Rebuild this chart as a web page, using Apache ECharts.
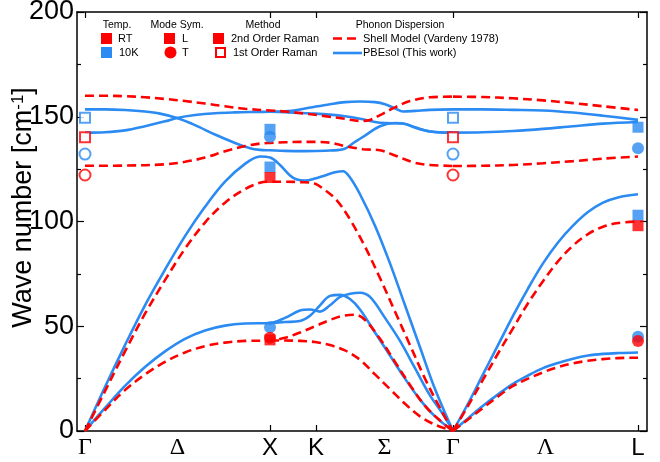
<!DOCTYPE html>
<html><head><meta charset="utf-8">
<script src="https://cdn.jsdelivr.net/npm/echarts@6/dist/echarts.min.js"></script>
<style>html,body{margin:0;padding:0;background:#fff}#c{width:660px;height:462px}</style>
</head><body><div id="c"></div>
<script>
// ---- k-path (arbitrary distance units) ----
const kTicks = [0, 185, 231, 368, 553];
const kLabelPos = [0, 92.5, 185, 231, 299.5, 368, 460.5, 553];
const kLabels = ['Γ', 'Δ', 'X', 'K', 'Σ', 'Γ', 'Λ', 'L'];
const yTicks = [0, 50, 100, 150, 200];

// ---- PBEsol (This work) : Γ-X-K-Γ ----
const pbeTA1 = [[0,0],[20,11],[40,21.5],[60,30.5],[80,38],[100,44],[120,48],[140,50.3],[160,51.3],[185,51.5],[200,54],[215,57.5],[225,58],[235,57],[245,60],[255,64],[265,65.5],[275,66],[285,64],[300,54],[315,43],[330,30],[345,17],[358,8],[368,0]];
const pbeTA2 = [[185,51.5],[200,52],[215,52.5],[225,55],[235,60],[245,64.5],[255,65],[265,63],[275,58],[290,47],[305,36],[320,25],[335,15],[350,7],[368,0]];
const pbeLA = [[0,0],[20,21],[40,41],[60,60],[80,77],[100,93],[120,107],[140,119],[160,127.5],[175,131],[185,130.5],[195,127],[205,122],[212,120],[220,119.5],[230,120.5],[240,122],[250,123.5],[258,124],[265,121],[275,113],[290,98],[305,80],[320,60],[335,40],[350,20],[368,0]];
const pbeO1 = [[0,153.5],[20,153.5],[40,153.2],[60,152.5],[75,151.5],[92,149.4],[110,146],[130,141.5],[150,137.5],[165,135],[175,134.2],[185,134],[200,133.7],[220,133.6],[240,133.8],[258,134.5],[270,138],[280,141],[295,145.5],[310,147],[320,146.5],[335,144],[350,142.7],[368,142.4]];
const pbeO2 = [[0,142.4],[20,142.6],[40,143.5],[60,145.5],[80,147.8],[92,149.4],[110,150.8],[130,151.7],[150,152.1],[170,152.3],[185,152.4],[200,152.6],[215,153.5],[230,154.8],[245,156],[260,157],[275,157.3],[290,157],[300,156],[310,154],[318,152.5],[330,152.8],[345,153.3],[368,153.5]];
const pbeO3 = [[185,152.4],[200,152.2],[215,151.8],[230,151.5],[245,151],[260,150.2],[275,149],[290,147.5],[300,147],[318,146.8],[330,145],[345,143],[368,142.4]];
// ---- PBEsol : Γ-L ----
const pbeLTA = [[368,0],[383,6],[398,12],[413,17.5],[428,22.5],[443,26.5],[458,30],[473,32.5],[488,34.5],[503,36],[518,36.8],[533,37.2],[553,37.5]];
const pbeLLA = [[368,0],[383,13],[398,27],[413,41],[428,55],[443,68],[458,80],[473,90],[488,98],[503,104.5],[518,109],[533,111.5],[553,113]];
const pbeLO1 = [[368,153.5],[398,153.5],[428,153.3],[458,153],[488,152],[518,150.5],[553,148.5]];
const pbeLO2 = [[368,142.4],[398,142.6],[428,143.2],[458,144.2],[488,145.5],[518,146.7],[553,147.5]];

// ---- Shell Model (Vardeny 1978) : Γ-X-K-Γ ----
const shTA1 = [[0,0],[20,10],[40,19.5],[60,27],[80,33],[100,37.5],[120,40.5],[140,42.2],[160,43],[185,43.2],[200,44.5],[215,47],[230,50],[245,53],[258,55],[270,55.5],[280,53],[295,44],[310,33],[325,22],[340,12],[355,5],[368,0]];
const shTA2 = [[185,43.2],[200,43.2],[215,43],[230,42.5],[245,41],[260,38.5],[275,34],[290,27],[305,20],[320,13],[335,7],[350,3],[368,0]];
const shLA = [[0,0],[20,19],[40,38],[60,56],[80,72],[100,87],[120,99.5],[140,109],[160,115.5],[175,118.5],[185,119],[200,119],[215,118.8],[228,118.4],[240,115],[252,110],[265,101],[280,88],[295,73],[310,57],[325,41],[340,25],[355,11],[368,0]];
const shO1 = [[0,160],[20,160],[40,159.8],[60,159.3],[80,158.5],[100,157.5],[120,156.3],[140,155],[160,153.8],[185,153],[200,152.5],[220,151.5],[240,150.3],[260,149],[275,148],[285,148.5],[295,150.8],[310,154.5],[325,157.5],[345,159.3],[368,159.6]];
const shO2 = [[0,126.6],[40,126.7],[80,127.3],[100,128.5],[120,130.5],[140,133.5],[160,136],[175,137.2],[185,137.5],[200,137.8],[215,138],[230,138],[245,137.6],[260,136],[278,134.5],[295,134],[310,131.5],[330,128],[345,127],[368,126.5]];
// ---- Shell Model : Γ-L ----
const shLTA = [[368,0],[383,5.5],[398,11],[413,16.5],[428,21.5],[443,25],[458,28],[473,30.5],[488,32.3],[503,33.5],[518,34.3],[533,34.8],[553,35]];
const shLLA = [[368,0],[383,12],[398,24.5],[413,37],[428,49],[443,61],[458,71.5],[473,81],[488,88.5],[503,94],[518,97.5],[533,99.3],[553,100]];
const shLO1 = [[368,159.6],[398,159.4],[428,158.8],[458,157.8],[488,156.5],[518,155],[553,153.2]];
const shLO2 = [[368,126.5],[398,126.6],[428,127],[458,127.8],[488,128.8],[518,130],[553,131]];

// ---- Raman data ----
const raman2_10K_L = [[185,144],[185,126],[553,145],[553,103]];
const raman2_10K_T = [[185,140.5],[185,49.5],[553,135],[553,45]];
const raman2_RT_L  = [[185,121],[185,43.5],[553,98]];
const raman2_RT_T  = [[185,44.5],[553,43]];
const raman1_10K_L = [[0,149.5],[368,149.5]];
const raman1_10K_T = [[0,132.2],[368,132.2]];
const raman1_RT_L  = [[0,140.2],[368,140.2]];
const raman1_RT_T  = [[0,122.2],[368,122.2]];

const RED = '#ff0000', BLUE = '#2b8bf2';
const FONT = 'Liberation Sans, Arial, sans-serif';
const SERIF = 'Liberation Serif, Times New Roman, serif';

const chart = echarts.init(document.getElementById('c'), null, {renderer: 'canvas'});

const pbe = [pbeTA1, pbeTA2, pbeLA, pbeO1, pbeO2, pbeO3, pbeLTA, pbeLLA, pbeLO1, pbeLO2];
const shell = [shTA1, shTA2, shLA, shO1, shO2, shLTA, shLLA, shLO1, shLO2];
const series = [];
pbe.forEach(d => series.push({type:'line', data:d, smooth:0.35, showSymbol:false, silent:true, z:2,
  lineStyle:{color:BLUE, width:2.6}}));
shell.forEach(d => series.push({type:'line', data:d, smooth:0.35, showSymbol:false, silent:true, z:3,
  lineStyle:{color:RED, width:2.6, type:[9,5]}}));
function sc(data, color, symbol, size, filled) {
  return {type:'scatter', data:data, symbol:symbol, symbolSize:size, z:5,
    itemStyle: filled ? {color:color} : {color:'#fff', borderColor:color, borderWidth:2}};
}
series.push(sc(raman2_10K_L, BLUE, 'rect', 11, true));
series.push(sc(raman2_10K_T, BLUE, 'circle', 12, true));
series.push(sc(raman2_RT_L, RED, 'rect', 11, true));
series.push(sc(raman2_RT_T, RED, 'circle', 12, true));
series.push(sc(raman1_10K_L, BLUE, 'rect', 10, false));
series.push(sc(raman1_RT_L, RED, 'rect', 10, false));
series.push(sc(raman1_10K_T, BLUE, 'circle', 11, false));
series.push(sc(raman1_RT_T, RED, 'circle', 11, false));

const axLine = {show:true, onZero:false, lineStyle:{color:'#000', width:1.5}};
const lab = (v) => { const i = kLabelPos.indexOf(v); if (i < 0) return ''; const s = kLabels[i];
  return /[A-Z]/.test(s) ? '{s|' + s + '}' : '{g|' + s + '}'; };

// legend (drawn as graphic)
const LF = 11;
const g = [];
function t2(x, y, s, size, align) { g.push({type:'text', x:x, y:y, style:{text:s, font: size + 'px ' + FONT, fill:'#000', align: align||'left', verticalAlign:'middle'}}); }
t2(117, 25, 'Temp.', 10.5, 'center');
t2(177, 25, 'Mode Sym.', 10.5, 'center');
t2(263, 25, 'Method', 10.5, 'center');
t2(400, 25, 'Phonon Dispersion', 10.5, 'center');
g.push({type:'rect', shape:{x:101, y:33, width:11, height:11}, style:{fill:RED}});
g.push({type:'rect', shape:{x:101, y:47, width:11, height:11}, style:{fill:BLUE}});
t2(118, 38.5, 'RT', LF); t2(119, 53, '10K', LF);
g.push({type:'rect', shape:{x:164, y:33, width:11, height:11}, style:{fill:RED}});
g.push({type:'circle', shape:{cx:170.5, cy:52.5, r:6}, style:{fill:RED}});
t2(182, 38.5, 'L', LF); t2(182, 53, 'T', LF);
g.push({type:'rect', shape:{x:213, y:33, width:11, height:11}, style:{fill:RED}});
g.push({type:'rect', shape:{x:216, y:48, width:9, height:9}, style:{fill:'#fff', stroke:RED, lineWidth:2}});
t2(231, 38.5, '2nd Order Raman', LF); t2(233, 53, '1st Order Raman', LF);
g.push({type:'line', shape:{x1:333, y1:38.5, x2:356, y2:38.5}, style:{stroke:RED, lineWidth:2.6, lineDash:[9,5]}});
g.push({type:'line', shape:{x1:333, y1:53, x2:362, y2:53}, style:{stroke:BLUE, lineWidth:2.6}});
t2(363, 38.5, 'Shell Model (Vardeny 1978)', LF); t2(363, 53, 'PBEsol (This work)', LF);

chart.setOption({
  animation:false,
  backgroundColor:'#fff',
  grid:{left:77, top:12, right:13, bottom:31, containLabel:false, outerBoundsMode:'none'},
  xAxis:[{
    type:'value', min:-8, max:562, position:'bottom',
    axisLine:axLine, splitLine:{show:false},
    axisTick:{show:true, inside:true, length:6, customValues:kTicks, lineStyle:{color:'#000', width:1.2}},
    axisLabel:{show:true, customValues:kLabelPos, margin:5, formatter:lab, color:'#000',
      rich:{g:{fontFamily:SERIF, fontSize:24, color:'#000'},
            s:{fontFamily:FONT, fontSize:24, color:'#000'}}}
  },{
    type:'value', min:-8, max:562, position:'top',
    axisLine:axLine, splitLine:{show:false}, axisLabel:{show:false},
    axisTick:{show:true, inside:true, length:6, customValues:kTicks, lineStyle:{color:'#000', width:1.2}}
  }],
  yAxis:[{
    type:'value', min:0, max:200, interval:50, position:'left',
    axisLine:axLine, splitLine:{show:false},
    axisTick:{show:true, inside:true, length:7, customValues:yTicks, lineStyle:{color:'#000', width:1.2}},
    minorTick:{show:true, splitNumber:2, length:4, lineStyle:{color:'#000', width:1.2}},
    axisLabel:{show:true, customValues:yTicks, margin:3, color:'#000', fontFamily:FONT, fontSize:27},
    name:'{p| }{a|Wave number [cm}{s|-1}{a|]}', nameLocation:'middle', nameGap:40, nameRotate:90, nameMoveOverlap:false,
    nameTextStyle:{rich:{p:{width:28, fontSize:27}, a:{fontFamily:FONT, fontSize:27, color:'#000'}, s:{fontFamily:FONT, fontSize:17, color:'#000', verticalAlign:'top', padding:[0,0,9,0]}}}
  },{
    type:'value', min:0, max:200, interval:50, position:'right',
    axisLine:axLine, splitLine:{show:false}, axisLabel:{show:false},
    axisTick:{show:true, inside:true, length:7, lineStyle:{color:'#000', width:1.2}},
    minorTick:{show:true, splitNumber:2, length:4, lineStyle:{color:'#000', width:1.2}}
  }],
  graphic:g,
  series:series
});
</script></body></html>
